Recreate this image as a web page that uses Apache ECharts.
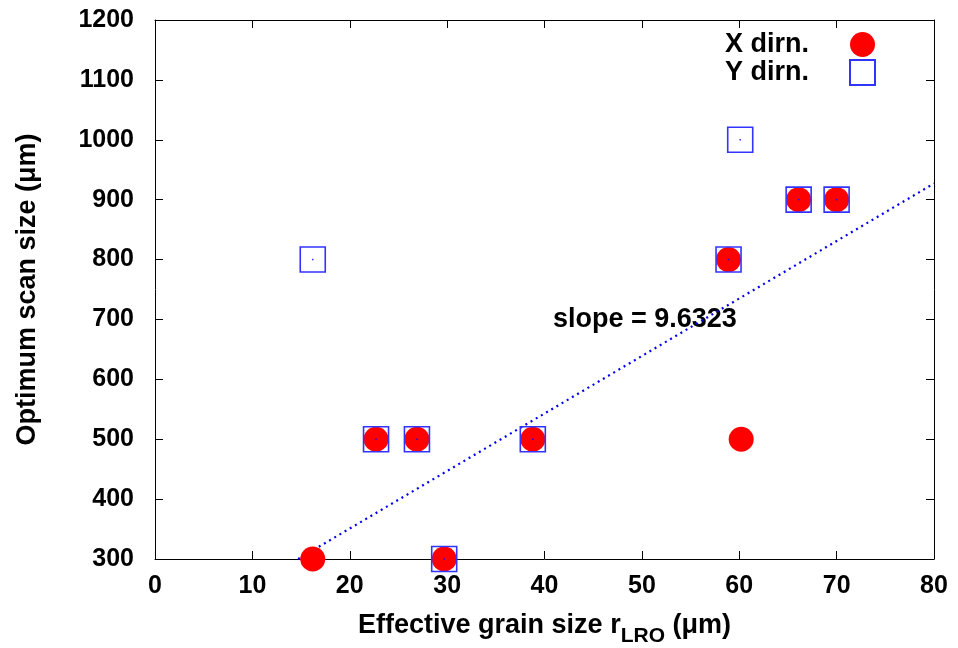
<!DOCTYPE html>
<html><head><meta charset="utf-8">
<script src="https://cdn.jsdelivr.net/npm/echarts@6/dist/echarts.min.js"></script>
<style>html,body{margin:0;padding:0;background:#fff}#c{width:958px;height:648px}</style>
</head><body><div id="c"></div>
<script>
// Data
const xDirnX = [16.2, 22.7, 26.9, 29.7, 38.8, 58.9, 60.2, 66.1, 70.0];
const xDirnY = [300, 500, 500, 300, 500, 800, 500, 900, 900];
const yDirnX = [16.2, 22.7, 26.9, 29.7, 38.8, 58.9, 60.1, 66.1, 70.0];
const yDirnY = [800, 500, 500, 300, 500, 800, 1000, 900, 900];
const fitX = [14.7, 80];
const fitY = [300, 927];
const slopeLabel = 'slope = 9.6323';

const zip = (a, b) => a.map((v, i) => [v, b[i]]);
const FONT = 'Liberation Sans, Arial, sans-serif';
const chart = echarts.init(document.getElementById('c'));
const axisCommon = {
  axisLine: {show: true, onZero: false, lineStyle: {color: '#000', width: 1}},
  axisTick: {show: true, inside: true, length: 8, lineStyle: {color: '#000', width: 1}},
  splitLine: {show: false}
};
chart.setOption({
  animation: false,
  grid: {left: 155, right: 24, top: 20, bottom: 89, show: false, containLabel: false, outerBoundsMode: 'none'},
  textStyle: {fontFamily: FONT},
  xAxis: [
    Object.assign({type: 'value', min: 0, max: 80, interval: 10, position: 'bottom',
      name: '{t|Effective grain size r}{s|LRO}{t| (μm)}', nameLocation: 'middle', nameGap: 50,
      nameTextStyle: {rich: {
        t: {fontFamily: FONT, fontWeight: 'bold', fontSize: 27, color: '#000', verticalAlign: 'bottom', lineHeight: 30},
        s: {fontFamily: FONT, fontWeight: 'bold', fontSize: 21, color: '#000', verticalAlign: 'bottom', padding: [0, 0, -8, 0], lineHeight: 30}
      }},
      axisLabel: {color: '#000', fontSize: 25, fontWeight: 'bold', fontFamily: FONT, margin: 15}
    }, axisCommon),
    Object.assign({type: 'value', min: 0, max: 80, interval: 10, position: 'top',
      axisLabel: {show: false}}, axisCommon)
  ],
  yAxis: [
    Object.assign({type: 'value', min: 300, max: 1200, interval: 100, position: 'left',
      name: 'Optimum scan size (μm)', nameLocation: 'middle', nameGap: 114, nameRotate: 90,
      nameTextStyle: {color: '#000', fontSize: 27, fontWeight: 'bold', fontFamily: FONT},
      axisLabel: {color: '#000', fontSize: 25, fontWeight: 'bold', fontFamily: FONT, margin: 21,
        formatter: v => String(v)}
    }, axisCommon),
    Object.assign({type: 'value', min: 300, max: 1200, interval: 100, position: 'right',
      axisLabel: {show: false}}, axisCommon)
  ],
  legend: {
    orient: 'vertical', right: 77, top: 26, align: 'right',
    itemWidth: 25, itemHeight: 25, itemGap: 1,
    data: ['X dirn.', 'Y dirn.'],
    textStyle: {fontFamily: FONT, fontSize: 27, fontWeight: 'bold', color: '#000', padding: [0, 36, 0, 0]}
  },
  series: [
    {name: 'fit', type: 'line', data: zip(fitX, fitY), showSymbol: false, symbol: 'none',
      lineStyle: {color: '#0000ee', width: 2.2, type: [2, 4]}, z: 1, silent: true},
    {name: 'X dirn.', type: 'scatter', data: zip(xDirnX, xDirnY), symbol: 'circle', symbolSize: 25,
      itemStyle: {color: '#ff0000', opacity: 1}, z: 2},
    {name: 'Y dirn.', type: 'scatter', data: zip(yDirnX, yDirnY), symbol: 'rect', symbolSize: 25,
      itemStyle: {color: 'rgba(255,255,255,0)', borderColor: '#3333ff', borderWidth: 1.6, opacity: 1}, z: 3},
    {name: 'ydot', type: 'scatter', data: zip(yDirnX, yDirnY), symbol: 'rect', symbolSize: 1.5,
      itemStyle: {color: '#0000ff'}, z: 4, silent: true}
  ],
  graphic: [
    {type: 'text', left: 553, top: 306, style: {text: slopeLabel, fontFamily: FONT, fontSize: 27, fontWeight: 'bold', fill: '#000'}}
  ]
});
</script></body></html>
